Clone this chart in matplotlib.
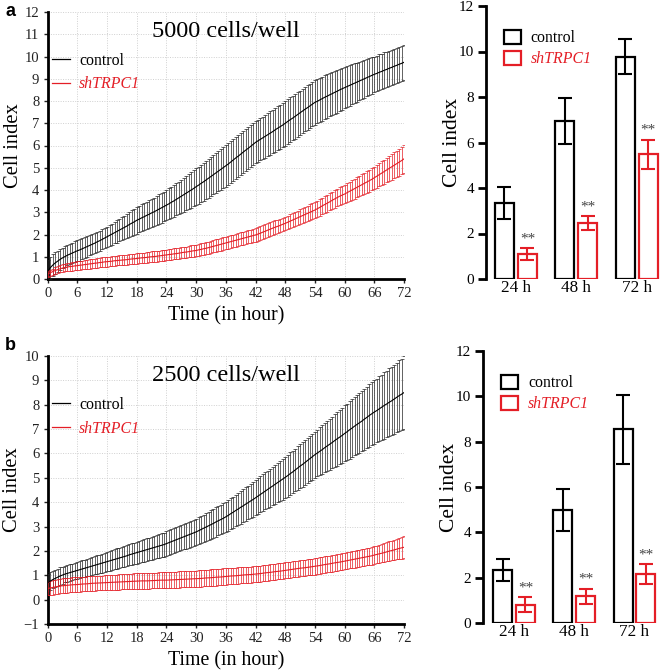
import matplotlib
matplotlib.use("Agg")
import matplotlib.pyplot as plt
import numpy as np
from matplotlib.patches import Rectangle
from matplotlib.lines import Line2D

# ---------------- data (readings every 0.5 h; one row = 6 hours) ----------------
ctrl_a_mean = [
    0.35, 0.50, 0.62, 0.72, 0.80, 0.88, 0.95, 1.01, 1.07, 1.12, 1.17, 1.22,
    1.27, 1.31, 1.36, 1.41, 1.46, 1.51, 1.56, 1.61, 1.67, 1.72, 1.78, 1.84,
    1.90, 1.96, 2.02, 2.08, 2.14, 2.20, 2.26, 2.32, 2.38, 2.45, 2.51, 2.57,
    2.64, 2.69, 2.75, 2.80, 2.86, 2.91, 2.97, 3.02, 3.08, 3.14, 3.20, 3.26,
    3.32, 3.38, 3.45, 3.51, 3.58, 3.65, 3.72, 3.79, 3.86, 3.93, 4.00, 4.07,
    4.15, 4.22, 4.30, 4.37, 4.45, 4.53, 4.61, 4.69, 4.77, 4.85, 4.93, 5.01,
    5.09, 5.17, 5.26, 5.35, 5.44, 5.52, 5.61, 5.70, 5.79, 5.87, 5.96, 6.05,
    6.14, 6.21, 6.28, 6.35, 6.42, 6.49, 6.56, 6.63, 6.71, 6.78, 6.85, 6.92,
    7.00, 7.08, 7.16, 7.23, 7.31, 7.39, 7.47, 7.55, 7.63, 7.70, 7.78, 7.86,
    7.94, 7.99, 8.05, 8.11, 8.17, 8.22, 8.28, 8.33, 8.39, 8.44, 8.50, 8.55,
    8.60, 8.65, 8.70, 8.75, 8.80, 8.85, 8.90, 8.95, 9.00, 9.05, 9.10, 9.15,
    9.20, 9.24, 9.29, 9.33, 9.38, 9.42, 9.47, 9.51, 9.56, 9.60, 9.65, 9.69,
    9.74]
ctrl_a_sd = [
    0.50, 0.50, 0.50, 0.49, 0.47, 0.46, 0.46, 0.46, 0.46, 0.46, 0.47, 0.47,
    0.48, 0.48, 0.47, 0.47, 0.46, 0.45, 0.45, 0.45, 0.45, 0.45, 0.45, 0.45,
    0.45, 0.46, 0.47, 0.48, 0.50, 0.51, 0.52, 0.53, 0.55, 0.56, 0.58, 0.59,
    0.60, 0.60, 0.61, 0.61, 0.62, 0.63, 0.64, 0.64, 0.65, 0.66, 0.67, 0.67,
    0.68, 0.69, 0.70, 0.71, 0.72, 0.73, 0.75, 0.76, 0.77, 0.78, 0.80, 0.81,
    0.82, 0.83, 0.84, 0.85, 0.86, 0.87, 0.88, 0.89, 0.90, 0.91, 0.92, 0.93,
    0.94, 0.94, 0.94, 0.94, 0.94, 0.94, 0.94, 0.94, 0.94, 0.94, 0.94, 0.94,
    0.94, 0.94, 0.95, 0.95, 0.96, 0.96, 0.97, 0.97, 0.98, 0.98, 0.99, 0.99,
    1.00, 1.00, 1.00, 1.00, 1.00, 1.00, 1.00, 1.00, 1.00, 1.00, 1.00, 1.00,
    1.00, 1.00, 0.99, 0.99, 0.98, 0.98, 0.97, 0.97, 0.96, 0.96, 0.95, 0.94,
    0.93, 0.92, 0.91, 0.90, 0.89, 0.88, 0.87, 0.86, 0.85, 0.84, 0.83, 0.82,
    0.80, 0.80, 0.80, 0.80, 0.80, 0.80, 0.79, 0.79, 0.79, 0.79, 0.79, 0.79,
    0.79]
sh_a_mean = [
    0.22, 0.28, 0.33, 0.38, 0.42, 0.46, 0.49, 0.52, 0.54, 0.56, 0.57, 0.59,
    0.60, 0.62, 0.63, 0.65, 0.66, 0.68, 0.69, 0.71, 0.72, 0.74, 0.75, 0.77,
    0.78, 0.79, 0.80, 0.82, 0.83, 0.84, 0.85, 0.86, 0.87, 0.89, 0.90, 0.91,
    0.92, 0.94, 0.95, 0.96, 0.97, 0.99, 1.00, 1.01, 1.02, 1.04, 1.05, 1.07,
    1.08, 1.10, 1.11, 1.13, 1.14, 1.16, 1.18, 1.20, 1.21, 1.23, 1.25, 1.27,
    1.28, 1.31, 1.33, 1.36, 1.38, 1.41, 1.44, 1.47, 1.50, 1.53, 1.56, 1.59,
    1.62, 1.65, 1.68, 1.71, 1.74, 1.77, 1.80, 1.83, 1.86, 1.89, 1.92, 1.95,
    1.98, 2.02, 2.06, 2.11, 2.15, 2.20, 2.24, 2.29, 2.33, 2.37, 2.41, 2.46,
    2.50, 2.55, 2.60, 2.65, 2.70, 2.75, 2.80, 2.85, 2.90, 2.95, 3.00, 3.05,
    3.10, 3.16, 3.22, 3.29, 3.35, 3.41, 3.47, 3.54, 3.60, 3.66, 3.72, 3.77,
    3.82, 3.88, 3.94, 4.00, 4.06, 4.12, 4.18, 4.24, 4.30, 4.36, 4.42, 4.48,
    4.55, 4.62, 4.69, 4.76, 4.83, 4.90, 4.97, 5.04, 5.11, 5.18, 5.25, 5.32,
    5.40]
sh_a_sd = [
    0.12, 0.13, 0.14, 0.15, 0.16, 0.16, 0.17, 0.17, 0.18, 0.18, 0.19, 0.19,
    0.19, 0.20, 0.20, 0.20, 0.20, 0.21, 0.21, 0.21, 0.21, 0.22, 0.22, 0.22,
    0.22, 0.22, 0.22, 0.22, 0.22, 0.22, 0.22, 0.22, 0.23, 0.23, 0.23, 0.23,
    0.23, 0.23, 0.23, 0.23, 0.24, 0.24, 0.24, 0.24, 0.24, 0.24, 0.24, 0.24,
    0.24, 0.25, 0.25, 0.25, 0.25, 0.25, 0.25, 0.25, 0.25, 0.25, 0.26, 0.26,
    0.26, 0.26, 0.27, 0.27, 0.27, 0.27, 0.27, 0.27, 0.28, 0.28, 0.28, 0.28,
    0.28, 0.28, 0.28, 0.28, 0.29, 0.29, 0.29, 0.29, 0.29, 0.29, 0.29, 0.29,
    0.30, 0.30, 0.30, 0.30, 0.30, 0.30, 0.30, 0.30, 0.30, 0.30, 0.30, 0.30,
    0.30, 0.30, 0.31, 0.31, 0.32, 0.32, 0.33, 0.33, 0.34, 0.34, 0.35, 0.35,
    0.36, 0.36, 0.37, 0.37, 0.38, 0.38, 0.39, 0.39, 0.40, 0.40, 0.41, 0.41,
    0.42, 0.42, 0.43, 0.44, 0.45, 0.45, 0.46, 0.47, 0.48, 0.48, 0.49, 0.49,
    0.50, 0.51, 0.52, 0.53, 0.54, 0.55, 0.56, 0.57, 0.58, 0.59, 0.60, 0.61,
    0.62]

ctrl_b_mean = [
    0.70, 0.76, 0.82, 0.87, 0.92, 0.97, 1.01, 1.05, 1.08, 1.11, 1.14, 1.17,
    1.20, 1.23, 1.26, 1.29, 1.32, 1.35, 1.38, 1.41, 1.44, 1.47, 1.50, 1.53,
    1.56, 1.59, 1.62, 1.65, 1.68, 1.71, 1.74, 1.77, 1.80, 1.84, 1.87, 1.90,
    1.93, 1.96, 1.99, 2.02, 2.05, 2.08, 2.11, 2.14, 2.17, 2.20, 2.23, 2.26,
    2.30, 2.34, 2.38, 2.42, 2.46, 2.50, 2.54, 2.58, 2.62, 2.66, 2.70, 2.74,
    2.78, 2.83, 2.88, 2.93, 2.98, 3.03, 3.08, 3.13, 3.19, 3.24, 3.29, 3.34,
    3.40, 3.46, 3.53, 3.59, 3.66, 3.72, 3.79, 3.85, 3.92, 3.98, 4.05, 4.11,
    4.18, 4.25, 4.32, 4.39, 4.46, 4.53, 4.60, 4.67, 4.74, 4.81, 4.88, 4.95,
    5.02, 5.09, 5.17, 5.24, 5.32, 5.40, 5.48, 5.55, 5.63, 5.71, 5.79, 5.87,
    5.95, 6.02, 6.09, 6.16, 6.24, 6.31, 6.38, 6.45, 6.53, 6.60, 6.67, 6.74,
    6.82, 6.89, 6.97, 7.04, 7.12, 7.19, 7.26, 7.33, 7.41, 7.48, 7.56, 7.63,
    7.70, 7.76, 7.83, 7.90, 7.97, 8.03, 8.10, 8.16, 8.23, 8.30, 8.37, 8.43,
    8.50]
ctrl_b_sd = [
    0.36, 0.36, 0.36, 0.35, 0.35, 0.35, 0.35, 0.34, 0.34, 0.34, 0.34, 0.34,
    0.34, 0.34, 0.35, 0.35, 0.36, 0.36, 0.37, 0.37, 0.38, 0.38, 0.39, 0.39,
    0.40, 0.40, 0.41, 0.41, 0.42, 0.42, 0.42, 0.42, 0.43, 0.43, 0.44, 0.44,
    0.45, 0.45, 0.46, 0.46, 0.47, 0.47, 0.48, 0.48, 0.48, 0.48, 0.49, 0.49,
    0.50, 0.50, 0.51, 0.51, 0.52, 0.52, 0.52, 0.52, 0.53, 0.53, 0.54, 0.54,
    0.55, 0.55, 0.56, 0.56, 0.57, 0.57, 0.58, 0.59, 0.60, 0.60, 0.61, 0.61,
    0.62, 0.63, 0.64, 0.64, 0.65, 0.66, 0.67, 0.68, 0.69, 0.69, 0.70, 0.71,
    0.72, 0.73, 0.74, 0.75, 0.76, 0.77, 0.78, 0.79, 0.80, 0.81, 0.83, 0.84,
    0.85, 0.86, 0.87, 0.87, 0.88, 0.89, 0.90, 0.91, 0.92, 0.92, 0.93, 0.94,
    0.95, 0.96, 0.98, 1.00, 1.02, 1.03, 1.05, 1.06, 1.08, 1.10, 1.12, 1.13,
    1.15, 1.16, 1.18, 1.19, 1.20, 1.21, 1.23, 1.24, 1.25, 1.26, 1.28, 1.29,
    1.30, 1.31, 1.33, 1.34, 1.36, 1.37, 1.39, 1.40, 1.42, 1.43, 1.45, 1.46,
    1.48]
sh_b_mean = [
    0.45, 0.48, 0.50, 0.52, 0.54, 0.56, 0.57, 0.58, 0.59, 0.60, 0.61, 0.615,
    0.62, 0.63, 0.64, 0.645, 0.65, 0.66, 0.67, 0.675, 0.68, 0.685, 0.69, 0.695,
    0.70, 0.705, 0.71, 0.715, 0.72, 0.725, 0.73, 0.735, 0.74, 0.745, 0.75, 0.755,
    0.76, 0.765, 0.77, 0.77, 0.77, 0.775, 0.78, 0.785, 0.79, 0.795, 0.80, 0.80,
    0.80, 0.805, 0.81, 0.815, 0.82, 0.825, 0.83, 0.835, 0.84, 0.845, 0.85, 0.855,
    0.86, 0.865, 0.87, 0.88, 0.89, 0.895, 0.90, 0.91, 0.92, 0.925, 0.93, 0.94,
    0.95, 0.96, 0.97, 0.975, 0.98, 0.99, 1.00, 1.01, 1.02, 1.025, 1.03, 1.04,
    1.05, 1.06, 1.07, 1.085, 1.10, 1.11, 1.12, 1.135, 1.15, 1.16, 1.17, 1.185,
    1.20, 1.215, 1.23, 1.245, 1.26, 1.275, 1.29, 1.30, 1.31, 1.325, 1.34, 1.355,
    1.37, 1.385, 1.40, 1.42, 1.44, 1.455, 1.47, 1.49, 1.51, 1.525, 1.54, 1.56,
    1.58, 1.60, 1.62, 1.64, 1.66, 1.68, 1.70, 1.72, 1.74, 1.76, 1.78, 1.80,
    1.83, 1.855, 1.88, 1.905, 1.93, 1.96, 1.99, 2.015, 2.04, 2.07, 2.10, 2.125,
    2.15]
sh_b_sd = [
    0.28, 0.28, 0.29, 0.29, 0.29, 0.30, 0.30, 0.30, 0.30, 0.30, 0.30, 0.30,
    0.30, 0.30, 0.30, 0.30, 0.30, 0.30, 0.30, 0.30, 0.30, 0.30, 0.30, 0.30,
    0.30, 0.30, 0.31, 0.31, 0.31, 0.31, 0.31, 0.31, 0.31, 0.31, 0.31, 0.32,
    0.32, 0.32, 0.32, 0.32, 0.32, 0.32, 0.32, 0.32, 0.32, 0.32, 0.32, 0.32,
    0.32, 0.32, 0.33, 0.33, 0.33, 0.33, 0.33, 0.33, 0.33, 0.33, 0.33, 0.33,
    0.33, 0.34, 0.34, 0.34, 0.34, 0.34, 0.34, 0.34, 0.34, 0.34, 0.34, 0.34,
    0.34, 0.33, 0.33, 0.33, 0.33, 0.33, 0.33, 0.33, 0.33, 0.33, 0.33, 0.33,
    0.33, 0.33, 0.33, 0.33, 0.33, 0.33, 0.33, 0.33, 0.33, 0.33, 0.33, 0.33,
    0.33, 0.33, 0.33, 0.33, 0.33, 0.33, 0.33, 0.33, 0.33, 0.33, 0.33, 0.33,
    0.34, 0.34, 0.34, 0.34, 0.34, 0.34, 0.34, 0.34, 0.34, 0.34, 0.34, 0.34,
    0.34, 0.34, 0.34, 0.35, 0.35, 0.35, 0.35, 0.35, 0.35, 0.35, 0.35, 0.36,
    0.36, 0.36, 0.37, 0.37, 0.38, 0.39, 0.40, 0.40, 0.41, 0.42, 0.43, 0.44,
    0.45]

hours = [0.5 * i for i in range(len(ctrl_a_mean))]

bar_groups = ["24 h", "48 h", "72 h"]
bar_a_ctrl = [3.35, 6.95, 9.78]
bar_a_ctrl_err = [0.70, 1.00, 0.76]
bar_a_sh = [1.10, 2.45, 5.48]
bar_a_sh_err = [0.27, 0.30, 0.65]
bar_b_ctrl = [2.33, 4.98, 8.55]
bar_b_ctrl_err = [0.48, 0.92, 1.52]
bar_b_sh = [0.80, 1.18, 2.17]
bar_b_sh_err = [0.33, 0.34, 0.43]

titles = ["5000 cells/well", "2500 cells/well"]
labels = ["control", "shTRPC1"]

# ---------------- style ----------------
RED = "#e41e26"
SERIF = ["Liberation Serif", "DejaVu Serif"]
plt.rcParams["font.family"] = SERIF

W, H = 661, 671
fig = plt.figure(figsize=(W / 100, H / 100), dpi=100)


def px_axes(left, top, right, bottom):
    return fig.add_axes([left / W, 1 - bottom / H, (right - left) / W, (bottom - top) / H])


def line_panel(ax, cm, cs, sm, ss, ylim, title):
    n = min(len(hours), len(cm), len(cs), len(sm), len(ss))
    x = hours[:n]
    ax.set_xlim(0, 72)
    ax.set_ylim(*ylim)
    ax.set_xticks(range(0, 73, 6))
    ax.set_yticks(range(ylim[0], ylim[1] + 1))
    ax.grid(True, color="#d0d0d0", linestyle=(0, (1, 1.5)), linewidth=0.7, zorder=0)
    ax.set_axisbelow(True)
    for s in ["top", "right"]:
        ax.spines[s].set_visible(False)
    for s in ["left", "bottom"]:
        ax.spines[s].set_linewidth(2.0)
    ax.tick_params(direction="out", length=3, width=1, labelsize=10.5, pad=3,
                   colors="#222222")
    ax.errorbar(x, cm[:n], yerr=cs[:n], color="black", lw=0.8, elinewidth=0.5,
                capsize=1.1, capthick=0.5, ecolor="#222222", zorder=3)
    ax.errorbar(x, sm[:n], yerr=ss[:n], color=RED, lw=0.8, elinewidth=0.5,
                capsize=1.1, capthick=0.5, ecolor=RED, zorder=3)
    ax.set_xlabel("Time (in hour)", fontsize=14.3, labelpad=4.5)
    ax.set_ylabel("Cell index", fontsize=14.8, labelpad=1)
    ax.text(0.5, 0.965, title, transform=ax.transAxes, ha="center", va="top",
            fontsize=17.5)
    handles = [Line2D([], [], color="black", lw=0.9), Line2D([], [], color=RED, lw=0.9)]
    leg = ax.legend(handles, labels, loc="upper left", bbox_to_anchor=(-0.005, 0.872),
                    frameon=False, fontsize=11.4, handlelength=1.15,
                    handletextpad=0.55, labelspacing=0.5, borderaxespad=0)
    t = leg.get_texts()
    t[1].set_color(RED)
    t[1].set_style("italic")


def bar_panel(ax, c, ce, s, se, xlim):
    x = np.arange(len(bar_groups))
    w = 0.315
    off = 0.19
    ax.bar(x - off, c, width=w, facecolor="white", edgecolor="black", linewidth=1.6,
           zorder=2)
    ax.errorbar(x - off, c, yerr=ce, fmt="none", ecolor="black", elinewidth=1.5,
                capsize=5, capthick=1.5, zorder=3)
    ax.bar(x + off, s, width=w, facecolor="white", edgecolor=RED, linewidth=1.6,
           zorder=2)
    ax.errorbar(x + off, s, yerr=se, fmt="none", ecolor=RED, elinewidth=1.5,
                capsize=5, capthick=1.5, zorder=3)
    for xi, v, e in zip(x + off, s, se):
        ax.text(xi, v + e + 0.12, "**", ha="center", va="bottom", fontsize=11,
                color="#444444")
    ax.set_xlim(*xlim)
    ax.set_ylim(0, 12)
    ax.set_yticks(range(0, 13, 2))
    ax.set_xticks(x)
    ax.set_xticklabels(bar_groups, fontsize=12.3)
    for sp in ["top", "right", "bottom"]:
        ax.spines[sp].set_visible(False)
    ax.spines["left"].set_linewidth(2.0)
    ax.tick_params(axis="y", direction="out", length=5.5, width=2, labelsize=11, pad=3)
    ax.tick_params(axis="x", length=0, pad=1)
    ax.set_ylabel("Cell index", fontsize=15.5, labelpad=-2)
    handles = [Rectangle((0, 0), 1, 1, facecolor="white", edgecolor="black", lw=1.6),
               Rectangle((0, 0), 1, 1, facecolor="white", edgecolor=RED, lw=1.6)]
    leg = ax.legend(handles, labels, loc="upper left", bbox_to_anchor=(0.066, 0.935),
                    frameon=False, fontsize=11.4, handlelength=1.1, handleheight=0.95,
                    handletextpad=0.6, labelspacing=0.3, borderaxespad=0)
    t = leg.get_texts()
    t[1].set_color(RED)
    t[1].set_style("italic")


ax1 = px_axes(47.7, 12, 404, 279)
line_panel(ax1, ctrl_a_mean, ctrl_a_sd, sh_a_mean, sh_a_sd, (0, 12), titles[0])
ax2 = px_axes(486, 6, 661, 279)
bar_panel(ax2, bar_a_ctrl, bar_a_ctrl_err, bar_a_sh, bar_a_sh_err, (-0.496, 2.4))

ax3 = px_axes(47.7, 356, 404, 624)
line_panel(ax3, ctrl_b_mean, ctrl_b_sd, sh_b_mean, sh_b_sd, (-1, 10), titles[1])
ax4 = px_axes(483, 351, 661, 623)
bar_panel(ax4, bar_b_ctrl, bar_b_ctrl_err, bar_b_sh, bar_b_sh_err, (-0.515, 2.44))

fig.text(10 / W, 1 - 12 / H, "a", fontsize=13, fontweight="bold",
         family="Liberation Sans", ha="center", va="center")
fig.text(10 / W, 1 - 345 / H, "b", fontsize=13, fontweight="bold",
         family="Liberation Sans", ha="center", va="center")

fig.savefig("out.png", dpi=100)
